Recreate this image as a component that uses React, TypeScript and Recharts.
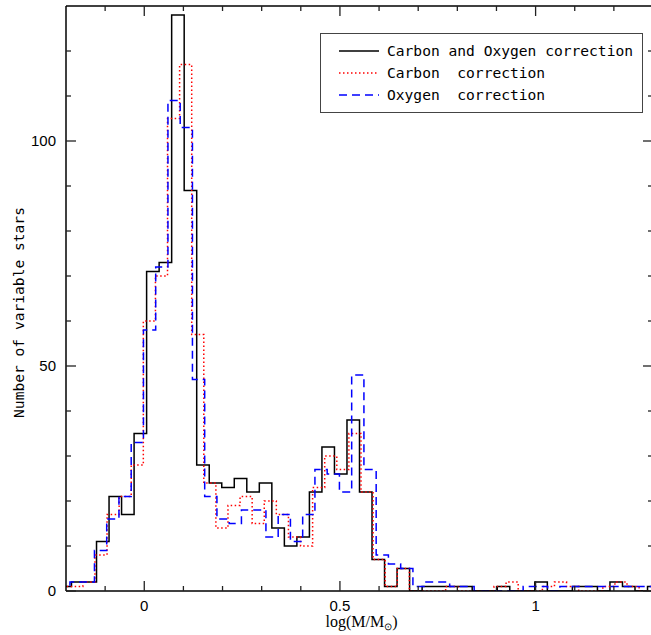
import React from 'react';
import { LineChart, Line, XAxis, YAxis, Legend } from 'recharts';

// histogram bins: left edge of first bin, bin width, counts per bin
const bothStart = -0.218;
const bothWidth = 0.032;
const bothCounts = [
  1, 2, 2, 11, 21, 17, 35, 71, 73, 128, 89, 28, 24, 23, 25, 22, 24, 14, 10, 12,
  22, 32, 26, 38, 22, 7, 1, 5, 0, 1, 1, 1, 1, 0, 0, 1, 0, 0, 2, 0,
  0, 1, 1, 0, 2, 1, 0, 1,
];

const carbonStart = -0.2187;
const carbonWidth = 0.0309;
const carbonCounts = [
  1, 1, 2, 8, 17, 21, 28, 60, 70, 105, 117, 57, 24, 14, 19, 21, 15, 20, 17, 12,
  10, 23, 30, 27, 35, 22, 7, 1, 5, 0, 0, 0, 1, 0, 0, 0, 1, 2, 0, 0,
  1, 2, 1, 0, 0, 1, 2, 1, 0, 0,
];

const oxygenStart = -0.2212;
const oxygenWidth = 0.0313;
const oxygenCounts = [
  1, 2, 2, 9, 16, 21, 33, 58, 72, 109, 103, 47, 21, 16, 15, 18, 18, 12, 17, 11,
  17, 27, 26, 22, 48, 27, 8, 6, 5, 1, 2, 2, 1, 1, 0, 0, 0, 0, 1, 1,
  0, 1, 1, 1, 1, 1, 1, 1, 1,
];

const xTicks = [-0.1, 0, 0.1, 0.2, 0.3, 0.4, 0.5, 0.6, 0.7, 0.8, 0.9, 1, 1.1, 1.2];
const xMajor = [0, 0.5, 1];
const yTicks = [0, 10, 20, 30, 40, 50, 60, 70, 80, 90, 100, 110, 120];
const yMajor = [0, 50, 100];

const seriesNames = ['Carbon and Oxygen correction', 'Carbon  correction', 'Oxygen  correction'];

// stepAfter needs one extra point at the right edge of the last bin
const toSteps = (start: number, width: number, counts: number[]) => {
  const pts = counts.map((c, i) => ({ x: start + i * width, y: c }));
  pts.push({ x: start + counts.length * width, y: counts[counts.length - 1] });
  return pts;
};

const bothPts = toSteps(bothStart, bothWidth, bothCounts);
const carbonPts = toSteps(carbonStart, carbonWidth, carbonCounts);
const oxygenPts = toSteps(oxygenStart, oxygenWidth, oxygenCounts);

const series = [
  { key: 'both', name: seriesNames[0], data: bothPts, color: '#000000', dash: undefined },
  { key: 'carbon', name: seriesNames[1], data: carbonPts, color: '#ff0000', dash: '1.5 2.5' },
  { key: 'oxygen', name: seriesNames[2], data: oxygenPts, color: '#0000ff', dash: '8 5' },
];

const isMajor = (list: number[], v: number) => list.some((m) => Math.abs(m - v) < 1e-6);
const fmt = (v: number) => (Math.abs(v) < 1e-9 ? '0' : String(v));

const tickColor = '#222';
const numFont = '"Liberation Sans", Arial, sans-serif';
const monoFont = '"DejaVu Sans Mono", monospace';

// ticks point inward, like the IDL frame
const makeXTick = (side: 'bottom' | 'top') => (props: any) => {
  const { x, y, payload } = props;
  const major = isMajor(xMajor, payload.value);
  const len = major ? 10 : 5;
  const dir = side === 'bottom' ? -1 : 1;
  return (
    <g>
      <line x1={x} x2={x} y1={y} y2={y + dir * len} stroke={tickColor} strokeWidth={1.3} />
      {side === 'bottom' && major && (
        <text x={x} y={y + 20} textAnchor="middle" fontFamily={numFont} fontSize={15} fill="#000">
          {fmt(payload.value)}
        </text>
      )}
    </g>
  );
};

const makeYTick = (side: 'left' | 'right') => (props: any) => {
  const { x, y, payload } = props;
  const major = isMajor(yMajor, payload.value);
  const len = major ? 10 : 5;
  const dir = side === 'left' ? 1 : -1;
  return (
    <g>
      <line x1={x} x2={x + dir * len} y1={y} y2={y} stroke={tickColor} strokeWidth={1.3} />
      {side === 'left' && major && (
        <text x={x - 10} y={y + 5} textAnchor="end" fontFamily={numFont} fontSize={15} fill="#000">
          {fmt(payload.value)}
        </text>
      )}
    </g>
  );
};

const XLabel = (props: any) => {
  const vb = props.viewBox || { x: 66, y: 591, width: 587 };
  return (
    <text x={vb.x + vb.width / 2 + 2} y={vb.y + 36} textAnchor="middle" fontFamily='"Liberation Serif", serif' fontSize={16} fill="#000">
      <tspan>log(M/M</tspan>
      <tspan dy={3} fontSize={10}>⊙</tspan>
      <tspan dy={-3}>)</tspan>
    </text>
  );
};

const YLabel = (props: any) => {
  const vb = props.viewBox || { x: 0, y: 6, height: 585 };
  const cx = 18;
  const cy = vb.y + vb.height / 2 + 14;
  return (
    <text x={cx} y={cy} transform={`rotate(-90, ${cx}, ${cy})`} textAnchor="middle" dominantBaseline="central" fontFamily={monoFont} fontSize={14.6} fill="#000">
      Number of variable stars
    </text>
  );
};

const LegendBox = () => (
  <div
    style={{
      width: 323,
      height: 80,
      border: '1.5px solid #444',
      boxSizing: 'border-box',
      background: '#fff',
      position: 'relative',
      fontFamily: monoFont,
      fontSize: 14.6,
      color: '#000',
    }}
  >
    {series.map((s, i) => (
      <div
        key={s.key}
        style={{ position: 'absolute', left: 18, top: 6 + i * 22, height: 22, display: 'flex', alignItems: 'center', whiteSpace: 'pre' }}
      >
        <svg width={40} height={6} style={{ display: 'block' }}>
          <line x1={0} x2={40} y1={3} y2={3} stroke={s.color} strokeWidth={1.5} strokeDasharray={s.dash} />
        </svg>
        <span style={{ marginLeft: 8, lineHeight: '22px' }}>{s.name}</span>
      </div>
    ))}
  </div>
);

const App: React.FC = () => {
  return (
    <div style={{ position: 'absolute', left: 0, top: 0, width: 651, height: 635, overflow: 'hidden', background: '#fff' }}>
      <LineChart width={660} height={635} margin={{ top: 5, right: 6, bottom: 0, left: 0 }}>
        <XAxis
          xAxisId="bottom"
          type="number"
          dataKey="x"
          domain={[-0.2, 1.3]}
          allowDataOverflow
          ticks={xTicks}
          interval={0}
          tickSize={0}
          tickMargin={0}
          tickLine={false}
          tick={makeXTick('bottom')}
          axisLine={{ stroke: '#000', strokeWidth: 1.5 }}
          height={44}
          label={<XLabel />}
        />
        <XAxis
          xAxisId="top"
          orientation="top"
          type="number"
          dataKey="x"
          domain={[-0.2, 1.3]}
          allowDataOverflow
          ticks={xTicks}
          interval={0}
          tickSize={0}
          tickMargin={0}
          tickLine={false}
          tick={makeXTick('top')}
          axisLine={{ stroke: '#000', strokeWidth: 1.5 }}
          height={1}
        />
        <YAxis
          yAxisId="left"
          type="number"
          domain={[0, 130]}
          allowDataOverflow
          ticks={yTicks}
          interval={0}
          tickSize={0}
          tickMargin={0}
          tickLine={false}
          tick={makeYTick('left')}
          axisLine={{ stroke: '#000', strokeWidth: 1.5 }}
          width={66}
          label={<YLabel />}
        />
        <YAxis
          yAxisId="right"
          orientation="right"
          type="number"
          domain={[0, 130]}
          allowDataOverflow
          ticks={yTicks}
          interval={0}
          tickSize={0}
          tickMargin={0}
          tickLine={false}
          tick={makeYTick('right')}
          axisLine={{ stroke: '#000', strokeWidth: 1.5 }}
          width={1}
        />
        <Legend
          layout="horizontal"
          verticalAlign="middle"
          align="center"
          content={<LegendBox />}
          wrapperStyle={{ left: 320, top: 33, width: 323, height: 80 }}
        />
        {/* invisible copy so the top/right frame axes get a scale */}
        <Line
          data={bothPts}
          xAxisId="top"
          yAxisId="right"
          dataKey="y"
          type="stepAfter"
          stroke="none"
          dot={false}
          legendType="none"
          isAnimationActive={false}
        />
        {series.map((s) => (
          <Line
            key={s.key}
            data={s.data}
            name={s.name}
            xAxisId="bottom"
            yAxisId="left"
            dataKey="y"
            type="stepAfter"
            stroke={s.color}
            strokeWidth={1.5}
            strokeDasharray={s.dash}
            dot={false}
            activeDot={false}
            isAnimationActive={false}
          />
        ))}
      </LineChart>
    </div>
  );
};

export default App;
